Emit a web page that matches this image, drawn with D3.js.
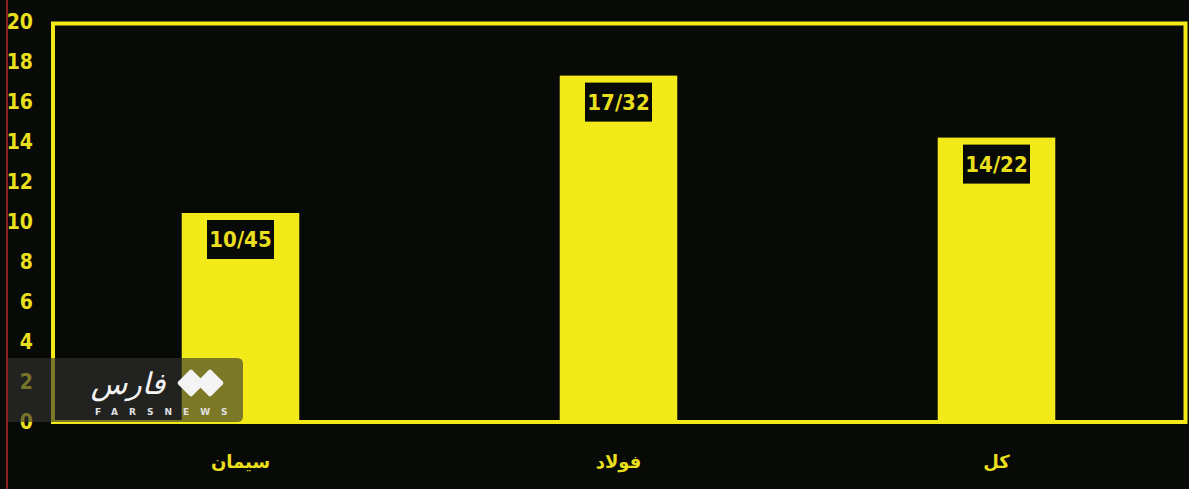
<!DOCTYPE html>
<html>
<head>
<meta charset="utf-8">
<script src="https://cdn.jsdelivr.net/npm/d3@7"></script>
<style>
  html, body { margin: 0; padding: 0; background: #080a07; }
  svg { display: block; }
</style>
</head>
<body>
<div id="chart"></div>
<script>
// data
const categories = ["سیمان", "فولاد", "کل"];
const values = [10.45, 17.32, 14.22];
const valueLabels = ["10/45", "17/32", "14/22"];
const yTicks = [0, 2, 4, 6, 8, 10, 12, 14, 16, 18, 20];

const width = 1189, height = 489;
const yellow = "#f2e919";

const svg = d3.select("#chart")
    .append("svg")
    .attr("width", width)
    .attr("height", height);

svg.append("rect")
    .attr("width", width)
    .attr("height", height)
    .attr("fill", "#080a07");

// thin red edge on the left
svg.append("line")
    .attr("x1", 7).attr("x2", 7)
    .attr("y1", 0).attr("y2", height)
    .attr("stroke", "#b8272a")
    .attr("stroke-width", 1.5);

const x = d3.scaleBand()
    .domain(categories)
    .range([51.5, 1185.5])
    .paddingInner(0.689)
    .paddingOuter(0.3445);

const y = d3.scaleLinear()
    .domain([0, 20])
    .range([422, 22]);

// frame
svg.append("rect")
    .attr("x", 53)
    .attr("y", y(20) + 1.5)
    .attr("width", 1185.5 - 53)
    .attr("height", y(0) - y(20) - 1.5)
    .attr("fill", "none")
    .attr("stroke", yellow)
    .attr("stroke-width", 4);

// y axis labels
const yAxis = svg.append("g")
    .attr("transform", "translate(33,0)")
    .call(d3.axisLeft(y).tickValues(yTicks).tickSize(0).tickPadding(0));
yAxis.select(".domain").remove();
yAxis.selectAll("text")
    .attr("fill", "#e9df1d")
    .style("font-family", "'Liberation Sans Narrow', 'DejaVu Sans Condensed', sans-serif")
    .style("font-size", "21px")
    .style("font-weight", "bold");

// bars
svg.selectAll(".bar")
    .data(values)
    .enter()
    .append("rect")
    .attr("class", "bar")
    .attr("x", (d, i) => x(categories[i]))
    .attr("y", d => y(d))
    .attr("width", x.bandwidth())
    .attr("height", d => y(0) - y(d))
    .attr("fill", yellow);

// value label boxes
const boxW = 67, boxH = 39;
const labels = svg.selectAll(".vlabel")
    .data(values)
    .enter()
    .append("g")
    .attr("class", "vlabel")
    .attr("transform", (d, i) =>
        `translate(${x(categories[i]) + x.bandwidth() / 2}, ${y(d) + 7})`);

labels.append("rect")
    .attr("x", -boxW / 2)
    .attr("y", 0)
    .attr("width", boxW)
    .attr("height", boxH)
    .attr("fill", "#080a07");

labels.append("text")
    .attr("x", 0)
    .attr("y", boxH / 2)
    .attr("dy", "0.36em")
    .attr("text-anchor", "middle")
    .attr("fill", "#e9df1d")
    .style("font-family", "'Liberation Sans Narrow', 'DejaVu Sans Condensed', sans-serif")
    .style("font-size", "22px")
    .style("font-weight", "bold")
    .text((d, i) => valueLabels[i]);

// category labels
svg.selectAll(".xlabel")
    .data(categories)
    .enter()
    .append("text")
    .attr("class", "xlabel")
    .attr("x", d => x(d) + x.bandwidth() / 2)
    .attr("y", 468)
    .attr("text-anchor", "middle")
    .attr("direction", "rtl")
    .attr("fill", "#e9df1d")
    .style("font-family", "'DejaVu Sans', sans-serif")
    .style("font-size", "18px")
    .style("font-weight", "bold")
    .text(d => d);

// watermark
const wm = svg.append("g");
wm.append("path")
    .attr("d", "M8,358 H237 Q243,358 243,364 V416 Q243,422 237,422 H8 Z")
    .attr("fill", "rgba(50,50,50,0.62)");

wm.append("text")
    .attr("x", 128)
    .attr("y", 394)
    .attr("text-anchor", "middle")
    .attr("direction", "rtl")
    .attr("fill", "#f4f4f4")
    .style("font-family", "'DejaVu Sans', sans-serif")
    .style("font-size", "30px")
    .style("font-style", "italic")
    .text("فارس");

[[191, 383], [210, 383]].forEach(c => {
    wm.append("rect")
        .attr("x", -10).attr("y", -10)
        .attr("width", 20).attr("height", 20)
        .attr("rx", 2)
        .attr("transform", `translate(${c[0]},${c[1]}) rotate(45)`)
        .attr("fill", "#f4f4f4");
});

wm.append("text")
    .attr("x", 95)
    .attr("y", 415)
    .attr("fill", "#e0e0e0")
    .style("font-family", "'DejaVu Sans', sans-serif")
    .style("font-size", "9px")
    .style("font-weight", "bold")
    .style("letter-spacing", "11px")
    .text("FARSNEWS");
</script>
</body>
</html>
